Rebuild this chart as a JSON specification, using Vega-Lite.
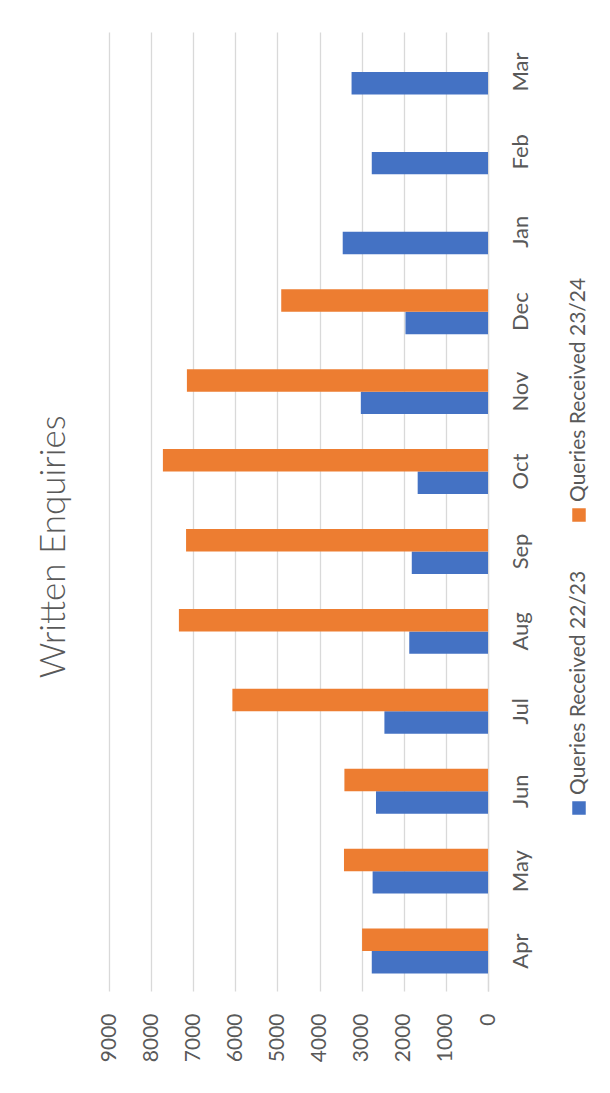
{
  "$schema": "https://vega.github.io/schema/vega-lite/v6.json",
  "padding": {"left": 36, "top": 32, "right": 0, "bottom": 0},
  "background": "#ffffff",
  "title": {
    "text": "Written Enquiries",
    "orient": "left",
    "anchor": "middle",
    "font": "Lato",
    "fontSize": 35,
    "fontWeight": 300,
    "color": "#595959",
    "offset": 26
  },
  "spacing": 37,
  "config": {
    "view": {"stroke": null},
    "font": "Lato",
    "text": {"font": "Lato"}
  },
  "hconcat": [
    {
      "width": 379,
      "height": 959,
      "data": {
        "values": [
          {"month": "Apr", "series": "Queries Received 22/23", "queries": 2760},
          {"month": "Apr", "series": "Queries Received 23/24", "queries": 2990},
          {"month": "May", "series": "Queries Received 22/23", "queries": 2740},
          {"month": "May", "series": "Queries Received 23/24", "queries": 3420},
          {"month": "Jun", "series": "Queries Received 22/23", "queries": 2660},
          {"month": "Jun", "series": "Queries Received 23/24", "queries": 3410},
          {"month": "Jul", "series": "Queries Received 22/23", "queries": 2460},
          {"month": "Jul", "series": "Queries Received 23/24", "queries": 6070},
          {"month": "Aug", "series": "Queries Received 22/23", "queries": 1870},
          {"month": "Aug", "series": "Queries Received 23/24", "queries": 7340},
          {"month": "Sep", "series": "Queries Received 22/23", "queries": 1810},
          {"month": "Sep", "series": "Queries Received 23/24", "queries": 7170},
          {"month": "Oct", "series": "Queries Received 22/23", "queries": 1670},
          {"month": "Oct", "series": "Queries Received 23/24", "queries": 7720},
          {"month": "Nov", "series": "Queries Received 22/23", "queries": 3020},
          {"month": "Nov", "series": "Queries Received 23/24", "queries": 7150},
          {"month": "Dec", "series": "Queries Received 22/23", "queries": 1960},
          {"month": "Dec", "series": "Queries Received 23/24", "queries": 4910},
          {"month": "Jan", "series": "Queries Received 22/23", "queries": 3450},
          {"month": "Feb", "series": "Queries Received 22/23", "queries": 2760},
          {"month": "Mar", "series": "Queries Received 22/23", "queries": 3240}
        ]
      },
      "mark": {"type": "bar"},
      "encoding": {
        "y": {
          "field": "month",
          "type": "nominal",
          "sort": ["Mar", "Feb", "Jan", "Dec", "Nov", "Oct", "Sep", "Aug", "Jul", "Jun", "May", "Apr"],
          "scale": {"paddingInner": 0.437, "paddingOuter": 0.2185},
          "axis": {
            "orient": "right",
            "title": null,
            "labelAngle": -90,
            "labelAlign": "center",
            "labelBaseline": "top",
            "labelPadding": 22,
            "ticks": false,
            "domainColor": "#d9d9d9",
            "domainWidth": 1.3,
            "labelFont": "Lato",
            "labelFontSize": 22,
            "labelColor": "#595959"
          }
        },
        "yOffset": {
          "field": "series",
          "type": "nominal",
          "sort": ["Queries Received 23/24", "Queries Received 22/23"]
        },
        "x": {
          "field": "queries",
          "type": "quantitative",
          "scale": {"domain": [0, 9000], "reverse": true, "nice": false},
          "axis": {
            "title": null,
            "values": [0, 1000, 2000, 3000, 4000, 5000, 6000, 7000, 8000, 9000],
            "format": "d",
            "labelAngle": -90,
            "labelAlign": "right",
            "labelBaseline": "middle",
            "labelPadding": 22,
            "ticks": false,
            "domain": false,
            "grid": true,
            "gridColor": "#d9d9d9",
            "gridWidth": 1.3,
            "labelFont": "Lato",
            "labelFontSize": 21,
            "labelColor": "#595959"
          }
        },
        "color": {
          "field": "series",
          "type": "nominal",
          "scale": {
            "domain": ["Queries Received 22/23", "Queries Received 23/24"],
            "range": ["#4472C4", "#ED7D31"]
          },
          "legend": null
        }
      }
    },
    {
      "width": 20,
      "height": 959,
      "data": {
        "values": [
          {"series": "Queries Received 22/23"},
          {"series": "Queries Received 23/24"}
        ]
      },
      "encoding": {
        "y": {
          "field": "series",
          "type": "nominal",
          "scale": {
            "type": "point",
            "padding": 0,
            "domain": ["Queries Received 23/24", "Queries Received 22/23"],
            "range": [483, 776]
          },
          "axis": null
        }
      },
      "layer": [
        {
          "mark": {"type": "square", "size": 182, "filled": true, "opacity": 1},
          "encoding": {
            "color": {
              "field": "series",
              "type": "nominal",
              "scale": {
                "domain": ["Queries Received 22/23", "Queries Received 23/24"],
                "range": ["#4472C4", "#ED7D31"]
              },
              "legend": null
            }
          }
        },
        {
          "mark": {
            "type": "text",
            "angle": -90,
            "align": "left",
            "baseline": "middle",
            "dx": 13,
            "font": "Lato",
            "fontSize": 21,
            "color": "#595959"
          },
          "encoding": {"text": {"field": "series"}}
        }
      ]
    }
  ]
}
